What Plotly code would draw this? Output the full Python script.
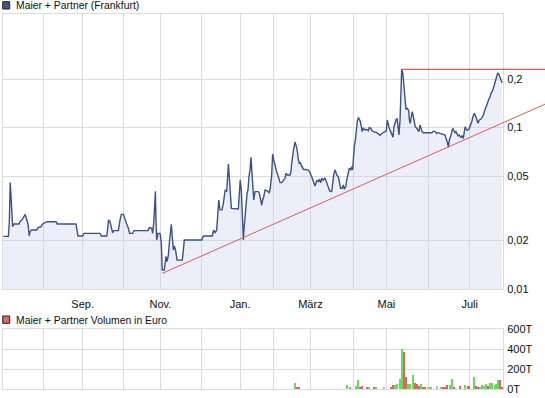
import plotly.graph_objects as go

# ---------------- data ----------------
# trading-session position (0 = first session shown) and closing price in EUR
price_day = [
    0.2, 2.9, 3.4, 3.9, 4.3, 5.2, 5.9, 8.6, 9.2, 10.4, 12.0, 12.8, 13.5, 14.2, 14.6, 15.5,
    18.2, 19.1, 20.5, 21.4, 23.6, 28.6, 29.3, 39.4, 39.8, 40.5, 43.0, 43.7, 52.4, 53.1,
    56.0, 56.3, 57.0, 57.8, 58.5, 59.2, 59.8, 62.3, 63.2, 63.9, 65.0, 65.9, 66.8, 67.7,
    68.4, 70.0, 70.7, 78.3, 79.0, 80.3, 80.8, 81.4, 81.9, 82.3, 82.6, 83.0, 83.7, 84.8,
    85.5, 86.0, 87.1, 87.5, 88.0, 88.6, 89.3, 89.8, 90.4, 90.9, 91.4, 92.0, 92.5, 93.2,
    94.0, 96.8, 97.4, 97.9, 107.3, 108.2, 113.0, 113.8, 114.5, 115.4, 115.9, 116.5,
    117.2, 118.3, 119.0, 119.5, 120.0, 120.8, 121.3, 121.7, 122.2, 122.7, 123.3, 127.1,
    127.6, 128.1, 128.7, 129.2, 129.8, 130.1, 130.7, 131.2, 131.8, 132.3, 132.8, 133.4,
    133.9, 134.3, 134.8, 135.4, 136.1, 137.9, 138.4, 139.0, 139.7, 140.2, 140.8, 141.5,
    143.3, 143.8, 144.3, 145.1, 145.6, 146.2, 146.9, 147.8, 148.7, 149.6, 150.5, 151.4,
    152.3, 152.8, 153.5, 155.0, 155.5, 155.9, 156.4, 157.0, 157.7, 158.2, 158.8, 159.5,
    160.0, 160.5, 161.3, 162.2, 164.9, 165.8, 166.7, 167.6, 168.5, 169.4, 170.3, 170.8,
    171.6, 172.1, 173.0, 173.9, 174.8, 175.7, 176.4, 177.5, 178.0, 178.7, 179.4, 180.2,
    181.1, 181.6, 182.3, 183.1, 183.8, 184.3, 185.1, 185.6, 186.5, 187.0, 187.8, 188.3,
    188.8, 189.2, 189.7, 190.3, 190.8, 191.3, 191.9, 192.4, 193.0, 193.5, 194.0, 194.6,
    195.6, 196.4, 197.3, 197.8, 198.6, 199.3, 200.0, 201.8, 202.7, 203.6, 204.5, 206.3,
    207.0, 207.5, 208.1, 208.6, 209.4, 210.1, 210.6, 211.1, 211.7, 212.2, 212.8, 213.3,
    213.8, 214.4, 214.8, 215.3, 215.9, 216.2, 216.5, 217.1, 217.6, 218.3, 219.1, 219.4,
    219.9, 220.5, 221.0, 221.6, 222.1, 222.6, 223.4, 224.1, 224.6, 225.2, 225.7, 226.3,
    227.0, 231.5, 232.4, 233.3, 234.2, 235.1, 236.0, 236.9, 238.7, 239.2, 239.9, 240.5,
    241.0, 241.8, 242.3, 242.8, 243.5, 244.1, 244.6, 245.2, 245.7, 246.4, 247.2, 247.9,
    248.6, 249.1, 249.6, 250.4, 251.1, 251.8, 252.6, 253.1, 253.8, 254.5, 255.2, 255.8,
    256.5, 257.2, 258.0, 258.7, 259.4, 259.9, 260.7, 261.2, 261.7, 262.3, 263.0, 263.5,
    264.1, 264.8, 265.3, 265.8, 266.6, 267.1, 267.7, 268.2, 268.8, 269.5,
]
price_value = [
    0.0212, 0.0212, 0.0257, 0.0456, 0.0382, 0.0243, 0.0253, 0.0253, 0.0261, 0.0270, 0.0290, 0.0274, 0.0253, 0.0213, 0.0227, 0.0232,
    0.0232, 0.0241, 0.0243, 0.0253, 0.0261, 0.0261, 0.0253, 0.0253, 0.0232, 0.0213, 0.0213, 0.0221, 0.0221, 0.0213,
    0.0213, 0.0223, 0.0268, 0.0261, 0.0241, 0.0223, 0.0230, 0.0230, 0.0268, 0.0290, 0.0290, 0.0268, 0.0253, 0.0238,
    0.0221, 0.0221, 0.0230, 0.0230, 0.0240, 0.0238, 0.0221, 0.0257, 0.0340, 0.0403, 0.0268, 0.0201, 0.0221, 0.0221,
    0.0192, 0.0131, 0.0131, 0.0144, 0.0159, 0.0148, 0.0162, 0.0192, 0.0216, 0.0252, 0.0211, 0.0174, 0.0185, 0.0174,
    0.0151, 0.0151, 0.0174, 0.0201, 0.0201, 0.0213, 0.0213, 0.0232, 0.0223, 0.0232, 0.0281, 0.0356,
    0.0309, 0.0309, 0.0340, 0.0373, 0.0411, 0.0401, 0.0496, 0.0595, 0.0496, 0.0373, 0.0316, 0.0313,
    0.0373, 0.0473, 0.0411, 0.0281, 0.0201, 0.0232, 0.0268, 0.0324, 0.0392, 0.0411, 0.0496, 0.0546,
    0.0655, 0.0546, 0.0411, 0.0356, 0.0401, 0.0401, 0.0392, 0.0356, 0.0331, 0.0356, 0.0373, 0.0411,
    0.0401, 0.0392, 0.0421, 0.0509, 0.0686, 0.0630, 0.0573, 0.0533, 0.0496, 0.0456, 0.0456, 0.0473,
    0.0485, 0.0521, 0.0509, 0.0509, 0.0533, 0.0601, 0.0693, 0.0744, 0.0815, 0.0780, 0.0733, 0.0630,
    0.0601, 0.0605, 0.0578, 0.0552, 0.0546, 0.0526, 0.0496, 0.0463, 0.0435, 0.0469, 0.0463, 0.0478,
    0.0456, 0.0485, 0.0473, 0.0488, 0.0452, 0.0431, 0.0405, 0.0401, 0.0452, 0.0521, 0.0546, 0.0509,
    0.0496, 0.0452, 0.0421, 0.0421, 0.0441, 0.0415, 0.0431, 0.0473, 0.0521, 0.0560, 0.0546, 0.0573,
    0.0546, 0.0660, 0.0762, 0.0838, 0.0966, 0.1088, 0.1158, 0.1126, 0.1088, 0.1013, 0.0944, 0.0990,
    0.0966, 0.0976, 0.0956, 0.1002, 0.0990, 0.0956, 0.0944, 0.0930, 0.0913, 0.0896, 0.0920, 0.0948,
    0.0956, 0.1115, 0.1038, 0.0990, 0.0944, 0.0904, 0.0871, 0.1013, 0.1088, 0.1115, 0.1142, 0.1038,
    0.0900, 0.1115, 0.1447, 0.2297, 0.2170, 0.1972, 0.1669, 0.1447, 0.1298, 0.1316, 0.1273, 0.1115,
    0.1063, 0.1168, 0.1255, 0.1168, 0.1063, 0.1013, 0.0990, 0.0966, 0.0944, 0.1038, 0.0990, 0.0944,
    0.0930, 0.0930, 0.0948, 0.0948, 0.0920, 0.0930, 0.0920, 0.0913, 0.0900, 0.0858, 0.0818, 0.0755,
    0.0838, 0.0887, 0.0966, 0.0990, 0.0956, 0.0930, 0.0944, 0.0913, 0.0887, 0.0900, 0.0871, 0.0887,
    0.0858, 0.0944, 0.1013, 0.0966, 0.0966, 0.0990, 0.1038, 0.1088, 0.1168, 0.1227, 0.1180, 0.1103,
    0.1063, 0.1115, 0.1126, 0.1158, 0.1197, 0.1255, 0.1348, 0.1414, 0.1425, 0.1497, 0.1540, 0.1631,
    0.1669, 0.1752, 0.1836, 0.1925, 0.2021, 0.2170, 0.2147, 0.2086, 0.2021, 0.1897,
]

# support (trend) line and resistance line
trend_day = [86.0, 292.7]
trend_value = [0.0125, 0.1397]
resist_day = [215.3, 292.7]
resist_value = [0.2297, 0.2297]

# volume in EUR
vol_day = [
    157.8, 158.9, 160.0, 185.9, 187.4, 190.6, 191.9, 192.9, 193.9, 196.7, 197.8, 200.3,
    201.4, 205.9, 209.9, 210.8, 212.1, 213.1, 214.4, 215.5, 216.7, 217.8, 218.9, 219.9,
    221.6, 222.7, 223.8, 224.8, 225.9, 227.0, 228.1, 229.9, 231.1, 234.5, 236.9, 238.0,
    239.1, 240.1, 241.4, 242.5, 243.5, 246.9, 249.6, 251.5, 254.5, 255.4, 256.7, 257.7,
    258.8, 259.9, 261.2, 262.1, 263.4, 264.4, 265.7, 266.6, 267.3, 268.4, 269.5,
]
vol_value = [
    59000, 15000, 15000, 33000, 17000, 27000, 92000, 15000, 27000, 12000, 12000, 12000,
    12000, 12000, 12000, 36000, 36000, 43000, 102000, 400000, 366000, 119000, 50000, 43000,
    142000, 59000, 43000, 26000, 50000, 13000, 13000, 10000, 10000, 30000, 12000, 20000,
    15000, 36000, 33000, 102000, 12000, 26000, 33000, 26000, 115000, 23000, 15000, 20000,
    33000, 23000, 43000, 23000, 59000, 59000, 33000, 43000, 92000, 92000, 15000,
]
vol_dir = [
    'up', 'down', 'down', 'up', 'up', 'up', 'up', 'down', 'down', 'down', 'up', 'down',
    'up', 'flat', 'down', 'down', 'up', 'up', 'up', 'up', 'down', 'down', 'up', 'up',
    'up', 'down', 'down', 'down', 'up', 'down', 'down', 'flat', 'up', 'flat', 'up', 'down',
    'down', 'down', 'up', 'up', 'down', 'down', 'up', 'down', 'up', 'down', 'down', 'up',
    'up', 'up', 'up', 'down', 'up', 'up', 'up', 'up', 'up', 'down', 'down',
]

month_day = [22, 43, 65, 85, 107, 128, 146, 166, 189, 207, 230, 252]
month_label = ['', 'Sep.', '', 'Nov.', '', 'Jan.', '', 'März', '', 'Mai', '', 'Juli']
price_ticks = [0.01, 0.02, 0.05, 0.1, 0.2]
price_tick_text = ['0,01', '0,02', '0,05', '0,1', '0,2']
vol_ticks = [0, 200000, 400000, 600000]
vol_tick_text = ['0T', '200T', '400T', '600T']

# ---------------- styling / layout ----------------
W, H = 545, 398
ML, MR, MT, MB = 3, 0, 14, 9
PW, PH = W - ML - MR, H - MT - MB
plot_w = 500
x_range = [0, 270]
main_dom_x = [0, plot_w / PW]
ext_range = [0, x_range[1] * PW / plot_w]
main_dom_y = [100 / PH, 1]
vol_dom_y = [0, 59.7 / PH]
y_range = [-2, -2 + 275 / 161.4]

GRID = '#dcdcdc'
FONT = dict(family='Liberation Sans, Arial, sans-serif', size=11, color='#111111')
LEG_FONT = dict(family='Liberation Sans, Arial, sans-serif', size=10.4, color='#111111')
dir_color = {'up': '#66dd55', 'down': '#e06262', 'flat': '#bdbdbd'}

fig = go.Figure()

fig.add_trace(go.Scatter(
    x=price_day, y=price_value, mode='lines', xaxis='x', yaxis='y',
    line=dict(color='#3b5283', width=1.4),
    fill='tozeroy', fillcolor='rgba(200,210,240,0.35)',
    hoverinfo='skip', showlegend=False,
))
fig.add_trace(go.Scatter(
    x=trend_day, y=trend_value, mode='lines', xaxis='x3', yaxis='y3',
    line=dict(color='#e05a5a', width=1), hoverinfo='skip', showlegend=False,
))
fig.add_trace(go.Scatter(
    x=resist_day, y=resist_value, mode='lines', xaxis='x3', yaxis='y3',
    line=dict(color='#e05a5a', width=1.2), hoverinfo='skip', showlegend=False,
))
fig.add_trace(go.Bar(
    x=vol_day, y=vol_value, xaxis='x2', yaxis='y2', width=0.85,
    marker=dict(color=[dir_color[d] for d in vol_dir], line=dict(width=0)),
    hoverinfo='skip', showlegend=False,
))

axis_common = dict(showgrid=True, gridcolor=GRID, gridwidth=1, showline=True,
                   linecolor=GRID, linewidth=1, mirror=True, zeroline=False,
                   ticks='', automargin=False, fixedrange=True)

fig.update_layout(
    width=W, height=H,
    margin=dict(l=ML, r=MR, t=MT, b=MB, pad=0),
    paper_bgcolor='white', plot_bgcolor='rgba(0,0,0,0)',
    font=FONT, showlegend=False, bargap=0,
    xaxis=dict(domain=main_dom_x, range=x_range, anchor='y',
               tickmode='array', tickvals=month_day, ticktext=month_label,
               ticklabelstandoff=5, **axis_common),
    yaxis=dict(domain=main_dom_y, type='log', range=y_range, anchor='x', side='right',
               tickmode='array', tickvals=price_ticks, ticktext=price_tick_text,
               ticklabelstandoff=1, **axis_common),
    xaxis2=dict(domain=main_dom_x, range=x_range, anchor='y2',
                tickmode='array', tickvals=month_day, showticklabels=False,
                **axis_common),
    yaxis2=dict(domain=vol_dom_y, range=[0, 600000], anchor='x2', side='right',
                tickmode='array', tickvals=vol_ticks, ticktext=vol_tick_text,
                ticklabelstandoff=1, **axis_common),
    xaxis3=dict(domain=[0, 1], range=ext_range, anchor='y3', visible=False, fixedrange=True),
    yaxis3=dict(domain=main_dom_y, type='log', range=y_range, anchor='x3', visible=False,
                fixedrange=True),
)

def px_x(p):
    return (p - ML) / PW

def px_y(p):
    return (H - MB - p) / PH

legend_items = [
    ('Maier + Partner (Frankfurt)', '#41557f', 1.7, 9.0, 5.5),
    ('Maier + Partner Volumen in Euro', '#e06464', 316.0, 323.3, 320.0),
]
for text, col, top, bot, mid in legend_items:
    fig.add_shape(type='rect', xref='paper', yref='paper',
                  x0=px_x(2.7), x1=px_x(9.7), y0=px_y(bot), y1=px_y(top),
                  fillcolor=col, line=dict(color='#222222', width=1))
    fig.add_annotation(text=text, xref='paper', yref='paper', x=px_x(13.5), y=px_y(mid),
                       xanchor='left', yanchor='middle', showarrow=False,
                       font=LEG_FONT)

fig.write_html('out.html', config={'displayModeBar': False},
               post_script="document.body.style.margin='0';")
